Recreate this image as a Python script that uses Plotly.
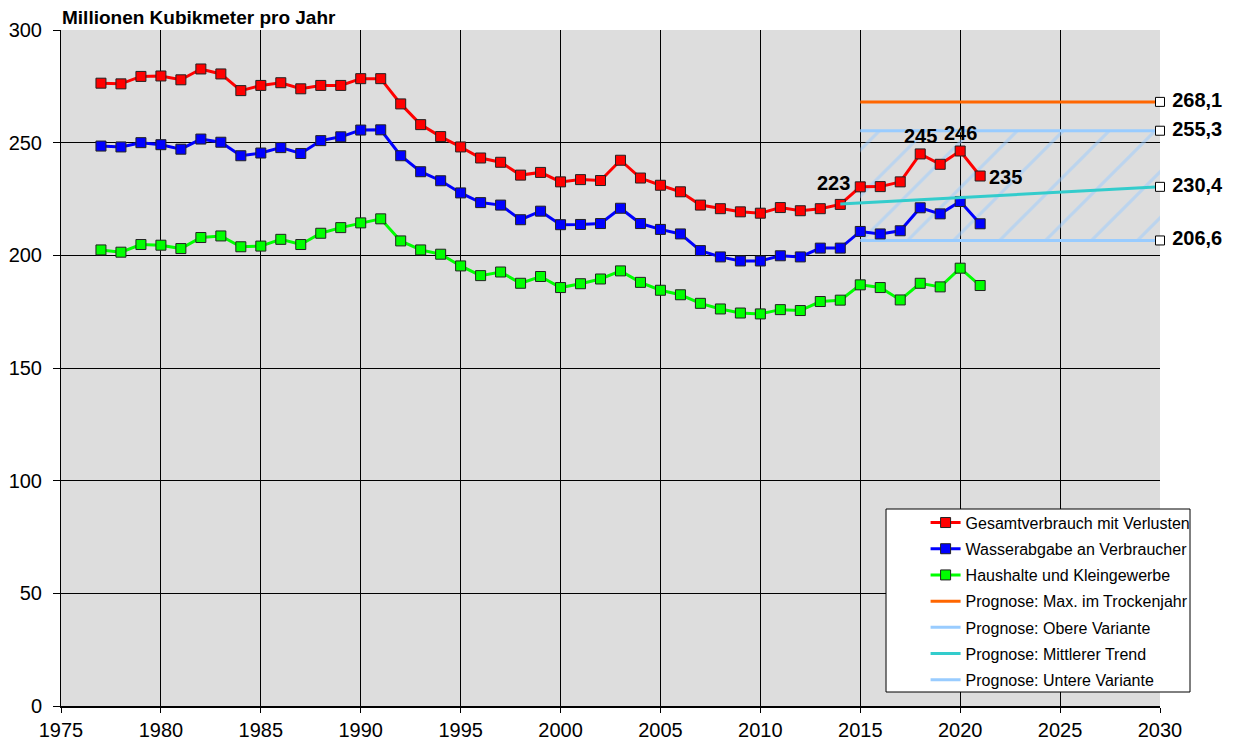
import plotly.graph_objects as go

years = list(range(1977, 2022))
gesamt = [276.4, 276.1, 279.4, 279.6, 277.9, 282.7, 280.5, 273.1, 275.4, 276.6,
          273.9, 275.4, 275.4, 278.4, 278.4, 267.2, 258.0, 252.7, 248.1, 243.2,
          241.3, 235.6, 236.8, 232.6, 233.6, 233.2, 242.2, 234.3, 231.1, 228.2,
          222.3, 220.7, 219.3, 218.7, 221.2, 219.8, 220.7, 222.6, 230.4, 230.5,
          232.6, 245.0, 240.4, 246.3, 235.2]
abgabe = [248.5, 248.1, 250.0, 249.1, 247.1, 251.6, 250.2, 244.2, 245.4, 247.8,
          245.2, 250.9, 252.6, 255.6, 255.7, 244.2, 237.1, 233.1, 227.7, 223.4,
          222.3, 215.8, 219.6, 213.6, 213.7, 214.1, 220.9, 214.1, 211.5, 209.5,
          202.1, 199.3, 197.5, 197.5, 199.8, 199.3, 203.2, 203.2, 210.6, 209.5,
          210.9, 221.1, 218.4, 223.9, 214.0]
haushalte = [202.4, 201.4, 204.8, 204.5, 203.0, 207.9, 208.6, 203.8, 204.1, 207.1,
             204.8, 209.8, 212.3, 214.4, 216.2, 206.4, 202.4, 200.5, 195.3, 191.0,
             192.6, 187.6, 190.6, 185.7, 187.4, 189.5, 193.1, 188.0, 184.5, 182.5,
             178.7, 176.2, 174.4, 174.0, 175.9, 175.5, 179.5, 180.1, 186.9, 185.7,
             180.2, 187.6, 186.0, 194.3, 186.6]

prog_years = [2015, 2030]
prog_max = [268.1, 268.1]
prog_obere = [255.3, 255.3]
prog_untere = [206.6, 206.6]
trend_years = [2014, 2030]
prog_trend = [222.8, 230.4]

label_years = [2014, 2018, 2020, 2021]

x_ticks = list(range(1975, 2031, 5))
y_ticks = list(range(0, 301, 50))

RED, BLUE, GREEN = "#FF0000", "#0000FF", "#00FF00"
ORANGE, LBLUE, TEAL = "#FF6600", "#99CCFF", "#33CCCC"
FONT = "Liberation Sans, Arial, sans-serif"

fig = go.Figure()

# hatched band between lower and upper variant
fig.add_trace(go.Scatter(x=prog_years, y=prog_obere, mode="lines",
                         line=dict(width=0, color=LBLUE), showlegend=False,
                         hoverinfo="skip"))
fig.add_trace(go.Scatter(x=prog_years, y=prog_untere, mode="lines",
                         line=dict(width=0, color=LBLUE), fill="tonexty",
                         fillcolor="rgba(0,0,0,0)",
                         fillpattern=dict(shape="/", size=32.5, solidity=0.1,
                                          fgcolor=LBLUE),
                         showlegend=False, hoverinfo="skip"))

marker_common = dict(symbol="square", size=10, line=dict(color="#222222", width=1))


def series(name, y, color, rank):
    fig.add_trace(go.Scatter(x=years, y=y, name=name, mode="lines+markers",
                             line=dict(color=color, width=3),
                             marker=dict(color=color, **marker_common),
                             legendrank=rank, legendgroup=name))


fig.add_trace(go.Scatter(x=prog_years, y=prog_max, name="Prognose: Max. im Trockenjahr",
                         mode="lines", line=dict(color=ORANGE, width=3),
                         legendrank=4, legendgroup="m"))
fig.add_trace(go.Scatter(x=prog_years, y=prog_obere, name="Prognose: Obere Variante",
                         mode="lines", line=dict(color=LBLUE, width=3),
                         legendrank=5, legendgroup="o"))
fig.add_trace(go.Scatter(x=prog_years, y=prog_untere, name="Prognose: Untere Variante",
                         mode="lines", line=dict(color=LBLUE, width=3),
                         legendrank=7, legendgroup="u"))

series("Haushalte und Kleingewerbe", haushalte, GREEN, 3)
series("Wasserabgabe an Verbraucher", abgabe, BLUE, 2)
series("Gesamtverbrauch mit Verlusten", gesamt, RED, 1)

fig.add_trace(go.Scatter(x=trend_years, y=prog_trend, name="Prognose: Mittlerer Trend",
                         mode="lines", line=dict(color=TEAL, width=3),
                         legendrank=6, legendgroup="t"))

# end-point markers with value labels
end_vals = [prog_max[-1], prog_obere[-1], prog_trend[-1], prog_untere[-1]]
fig.add_trace(go.Scatter(x=[prog_years[-1]] * len(end_vals), y=end_vals,
                         mode="markers+text",
                         text=["<b> " + f"{v:.1f}".replace(".", ",") + "</b>" for v in end_vals],
                         textposition="middle right",
                         textfont=dict(family=FONT, size=20, color="black"),
                         marker=dict(symbol="square", size=9, color="white",
                                     line=dict(color="black", width=1)),
                         cliponaxis=False, showlegend=False, hoverinfo="skip"))

# data labels on Gesamtverbrauch
lab_pos = {2014: ("center", "bottom", -7, 8), 2018: ("center", "bottom", 0, 5),
           2020: ("center", "bottom", 0, 5), 2021: ("left", "middle", 7, -1)}
for yr in label_years:
    v = gesamt[years.index(yr)]
    xa, ya, xs, ys = lab_pos[yr]
    fig.add_annotation(x=yr, y=v, text=f"<b>{round(v)}</b>", showarrow=False,
                       xanchor=xa, yanchor=ya, xshift=xs, yshift=ys,
                       font=dict(family=FONT, size=20, color="black"))

fig.add_annotation(x=0, y=1, xref="paper", yref="paper", xanchor="left", yanchor="bottom",
                   text="<b>Millionen Kubikmeter pro Jahr</b>", showarrow=False,
                   xshift=-1, yshift=0, font=dict(family=FONT, size=19, color="black"))

# legend box
fig.add_shape(type="rect", xref="paper", yref="paper",
              x0=0.7507, x1=1.0273, y0=0.0207, y1=0.2914,
              fillcolor="white", line=dict(color="black", width=1), layer="above")

fig.update_layout(
    width=1227, height=736,
    margin=dict(l=53, r=75, t=22, b=38),
    paper_bgcolor="white", plot_bgcolor="#DDDDDD",
    font=dict(family=FONT, color="black"),
    showlegend=True,
    legend=dict(x=0.7867, y=0.2964, xanchor="left", yanchor="top",
                bgcolor="rgba(0,0,0,0)", borderwidth=0,
                font=dict(family=FONT, size=16, color="black"),
                traceorder="grouped", tracegroupgap=2.4),
    xaxis=dict(range=[1975, 2030], tickvals=x_ticks, showgrid=True,
               gridcolor="black", gridwidth=1, showline=True, linecolor="black",
               linewidth=2, ticks="outside", ticklen=5, tickcolor="black",
               tickfont=dict(size=20), zeroline=False, automargin=False),
    yaxis=dict(range=[0, 300], tickvals=y_ticks, showgrid=True,
               gridcolor="black", gridwidth=1, showline=True, linecolor="black",
               linewidth=1, ticks="outside", ticklen=7, tickcolor="black",
               ticklabelstandoff=7, automargin=False,
               tickfont=dict(size=20), zeroline=False),
)

fig.write_html("out.html")
